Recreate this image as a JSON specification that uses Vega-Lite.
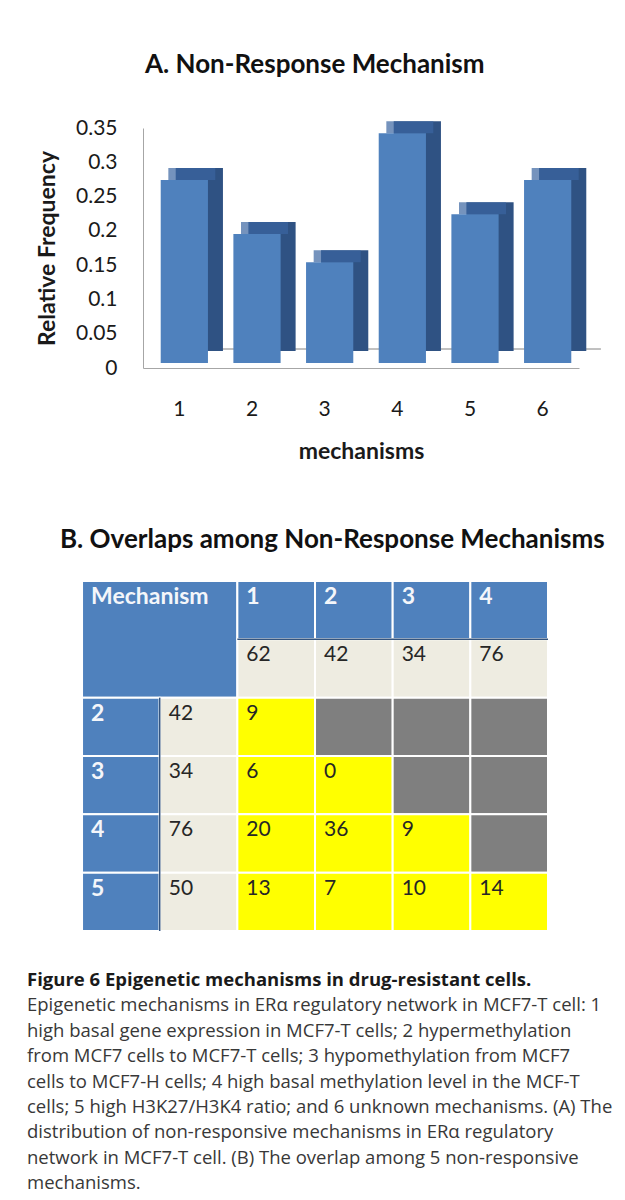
{
  "$schema": "https://vega.github.io/schema/vega-lite/v6.json",
  "background": "white",
  "padding": {"left": 27, "top": 52, "right": 0, "bottom": 0},
  "spacing": 35,
  "config": {
    "view": {"stroke": null},
    "font": "Lato",
    "axis": {"labelFont": "Lato", "titleFont": "Lato"},
    "title": {"font": "Lato"}
  },
  "vconcat": [
    {
      "width": 436,
      "height": 240,
      "title": {"text": "A. Non-Response Mechanism", "anchor": "start", "frame": "group", "dx": 2, "offset": 39, "fontSize": 26, "fontWeight": "bold", "color": "#111111"},
      "data": {"values": [
        {"mechanism": "1", "frequency": 0.267},
        {"mechanism": "2", "frequency": 0.188},
        {"mechanism": "3", "frequency": 0.147},
        {"mechanism": "4", "frequency": 0.335},
        {"mechanism": "5", "frequency": 0.217},
        {"mechanism": "6", "frequency": 0.267}
      ]},
      "encoding": {
        "x": {"field": "mechanism", "type": "ordinal", "scale": {"paddingInner": 0.35, "paddingOuter": 0.175},
          "axis": {"title": ["mechanisms", ""], "titleLineHeight": 29, "labelAngle": 0, "labelFontSize": 21, "labelColor": "#1a1a1a", "labelPadding": 30, "ticks": false, "domainColor": "#a6a6a6", "titleFontSize": 23, "titleFontWeight": "bold", "titleColor": "#1a1a1a", "titlePadding": 21}},
        "y": {"field": "frequency", "type": "quantitative", "scale": {"domain": [0, 0.35], "nice": false},
          "axis": {"title": "Relative Frequency", "values": [0, 0.05, 0.1, 0.15, 0.2, 0.25, 0.3, 0.35], "tickCount": 8, "format": ".2~f", "labelOverlap": false, "grid": false, "ticks": false, "domainColor": "#a6a6a6", "labelFontSize": 21, "labelColor": "#1a1a1a", "labelPadding": 26, "titleFontSize": 23, "titleFontWeight": "bold", "titleColor": "#1a1a1a", "titlePadding": 16}}
      },
      "layer": [
        {
          "mark": {"type": "rule", "color": "#c0c0c0", "strokeWidth": 1, "xOffset": -14, "x2Offset": 58, "yOffset": -19, "y2Offset": -19},
          "encoding": {"x": {"datum": "1", "type": "ordinal"}, "x2": {"datum": "6"}, "y": {"datum": 0, "type": "quantitative"}}
        },
        {
          "mark": {"type": "bar", "color": "#2f5283", "xOffset": 20, "x2Offset": 20, "yOffset": -17, "y2Offset": -17}
        },
        {
          "mark": {"type": "tick", "color": "#3b65a1", "orient": "horizontal", "thickness": 12, "size": 47, "xOffset": 12.5, "yOffset": -11}
        },
        {
          "mark": {"type": "bar", "color": "#4f81bd", "xOffset": 5, "x2Offset": 5, "yOffset": -5, "y2Offset": -5}
        }
      ]
    },
    {
      "width": 405,
      "height": 350,
      "title": {"text": "B. Overlaps among Non-Response Mechanisms", "anchor": "start", "frame": "group", "dx": -83, "offset": 27, "fontSize": 26, "fontWeight": "bold", "color": "#111111"},
      "data": {"values": [
        {"col": 0, "col_end": 2, "row": 0, "row_end": 2, "kind": "header", "label": "Mechanism"},
        {"col": 2, "col_end": 3, "row": 0, "row_end": 1, "kind": "header", "label": "1"},
        {"col": 3, "col_end": 4, "row": 0, "row_end": 1, "kind": "header", "label": "2"},
        {"col": 4, "col_end": 5, "row": 0, "row_end": 1, "kind": "header", "label": "3"},
        {"col": 5, "col_end": 6, "row": 0, "row_end": 1, "kind": "header", "label": "4"},
        {"col": 2, "col_end": 3, "row": 1, "row_end": 2, "kind": "total", "label": "62"},
        {"col": 3, "col_end": 4, "row": 1, "row_end": 2, "kind": "total", "label": "42"},
        {"col": 4, "col_end": 5, "row": 1, "row_end": 2, "kind": "total", "label": "34"},
        {"col": 5, "col_end": 6, "row": 1, "row_end": 2, "kind": "total", "label": "76"},
        {"col": 0, "col_end": 1, "row": 2, "row_end": 3, "kind": "header", "label": "2"},
        {"col": 1, "col_end": 2, "row": 2, "row_end": 3, "kind": "total", "label": "42"},
        {"col": 2, "col_end": 3, "row": 2, "row_end": 3, "kind": "overlap", "label": "9"},
        {"col": 3, "col_end": 4, "row": 2, "row_end": 3, "kind": "empty", "label": ""},
        {"col": 4, "col_end": 5, "row": 2, "row_end": 3, "kind": "empty", "label": ""},
        {"col": 5, "col_end": 6, "row": 2, "row_end": 3, "kind": "empty", "label": ""},
        {"col": 0, "col_end": 1, "row": 3, "row_end": 4, "kind": "header", "label": "3"},
        {"col": 1, "col_end": 2, "row": 3, "row_end": 4, "kind": "total", "label": "34"},
        {"col": 2, "col_end": 3, "row": 3, "row_end": 4, "kind": "overlap", "label": "6"},
        {"col": 3, "col_end": 4, "row": 3, "row_end": 4, "kind": "overlap", "label": "0"},
        {"col": 4, "col_end": 5, "row": 3, "row_end": 4, "kind": "empty", "label": ""},
        {"col": 5, "col_end": 6, "row": 3, "row_end": 4, "kind": "empty", "label": ""},
        {"col": 0, "col_end": 1, "row": 4, "row_end": 5, "kind": "header", "label": "4"},
        {"col": 1, "col_end": 2, "row": 4, "row_end": 5, "kind": "total", "label": "76"},
        {"col": 2, "col_end": 3, "row": 4, "row_end": 5, "kind": "overlap", "label": "20"},
        {"col": 3, "col_end": 4, "row": 4, "row_end": 5, "kind": "overlap", "label": "36"},
        {"col": 4, "col_end": 5, "row": 4, "row_end": 5, "kind": "overlap", "label": "9"},
        {"col": 5, "col_end": 6, "row": 4, "row_end": 5, "kind": "empty", "label": ""},
        {"col": 0, "col_end": 1, "row": 5, "row_end": 6, "kind": "header", "label": "5"},
        {"col": 1, "col_end": 2, "row": 5, "row_end": 6, "kind": "total", "label": "50"},
        {"col": 2, "col_end": 3, "row": 5, "row_end": 6, "kind": "overlap", "label": "13"},
        {"col": 3, "col_end": 4, "row": 5, "row_end": 6, "kind": "overlap", "label": "7"},
        {"col": 4, "col_end": 5, "row": 5, "row_end": 6, "kind": "overlap", "label": "10"},
        {"col": 5, "col_end": 6, "row": 5, "row_end": 6, "kind": "overlap", "label": "14"}
      ]},
      "layer": [
        {
          "mark": {"type": "rect", "stroke": "white", "strokeWidth": 2},
          "encoding": {
            "x": {"field": "col", "type": "quantitative", "scale": {"domain": [0.785, 6], "nice": false, "zero": false}, "axis": null},
            "x2": {"field": "col_end"},
            "y": {"field": "row", "type": "quantitative", "scale": {"domain": [0, 6], "nice": false, "reverse": true}, "axis": null},
            "y2": {"field": "row_end"},
            "color": {"field": "kind", "type": "nominal", "scale": {"domain": ["header", "total", "overlap", "empty"], "range": ["#4f81bd", "#eeece1", "#ffff00", "#7f7f7f"]}, "legend": null}
          }
        },
        {
          "data": {"values": [{}]},
          "mark": {"type": "rule", "color": "#34547e", "strokeWidth": 1.5},
          "encoding": {"x": {"datum": 1, "type": "quantitative"}, "y": {"datum": 2, "type": "quantitative"}, "y2": {"datum": 6}}
        },
        {
          "data": {"values": [{}]},
          "mark": {"type": "rule", "color": "#34547e", "strokeWidth": 1.5},
          "encoding": {"y": {"datum": 1, "type": "quantitative"}, "x": {"datum": 2, "type": "quantitative"}, "x2": {"datum": 6}}
        },
        {
          "transform": [{"filter": "datum.kind == 'header'"}],
          "mark": {"type": "text", "align": "left", "baseline": "middle", "dx": 9, "dy": 16, "fontSize": 23, "fontWeight": "bold", "color": "#f4f6fa", "font": "Lato"},
          "encoding": {
            "x": {"field": "col", "type": "quantitative"},
            "y": {"field": "row", "type": "quantitative"},
            "text": {"field": "label"}
          }
        },
        {
          "transform": [{"filter": "datum.kind != 'header' && datum.label != ''"}],
          "mark": {"type": "text", "align": "left", "baseline": "middle", "dx": 9, "dy": 16, "fontSize": 21, "color": "#262626", "font": "Lato"},
          "encoding": {
            "x": {"field": "col", "type": "quantitative"},
            "y": {"field": "row", "type": "quantitative"},
            "text": {"field": "label"}
          }
        }
      ]
    },
    {
      "width": 474,
      "height": 229,
      "data": {"values": [
        {"line": 1, "text": "Figure 6 Epigenetic mechanisms in drug-resistant cells."},
        {"line": 2, "text": "Epigenetic mechanisms in ERα regulatory network in MCF7-T cell: 1"},
        {"line": 3, "text": "high basal gene expression in MCF7-T cells; 2 hypermethylation"},
        {"line": 4, "text": "from MCF7 cells to MCF7-T cells; 3 hypomethylation from MCF7"},
        {"line": 5, "text": "cells to MCF7-H cells; 4 high basal methylation level in the MCF-T"},
        {"line": 6, "text": "cells; 5 high H3K27/H3K4 ratio; and 6 unknown mechanisms. (A) The"},
        {"line": 7, "text": "distribution of non-responsive mechanisms in ERα regulatory"},
        {"line": 8, "text": "network in MCF7-T cell. (B) The overlap among 5 non-responsive"},
        {"line": 9, "text": "mechanisms."}
      ]},
      "encoding": {
        "y": {"field": "line", "type": "ordinal", "axis": null, "scale": {"type": "point", "padding": 0.5}},
        "x": {"datum": 0, "type": "quantitative", "scale": {"domain": [0.1966, 1], "nice": false, "zero": false}, "axis": null},
        "text": {"field": "text"}
      },
      "layer": [
        {
          "transform": [{"filter": "datum.line == 1"}],
          "mark": {"type": "text", "align": "left", "baseline": "middle", "font": "Open Sans", "fontSize": 18.5, "fontWeight": "bold", "color": "#1a1a1a"}
        },
        {
          "transform": [{"filter": "datum.line > 1"}],
          "mark": {"type": "text", "align": "left", "baseline": "middle", "font": "Open Sans", "fontSize": 18.5, "color": "#383838"}
        }
      ]
    }
  ]
}
